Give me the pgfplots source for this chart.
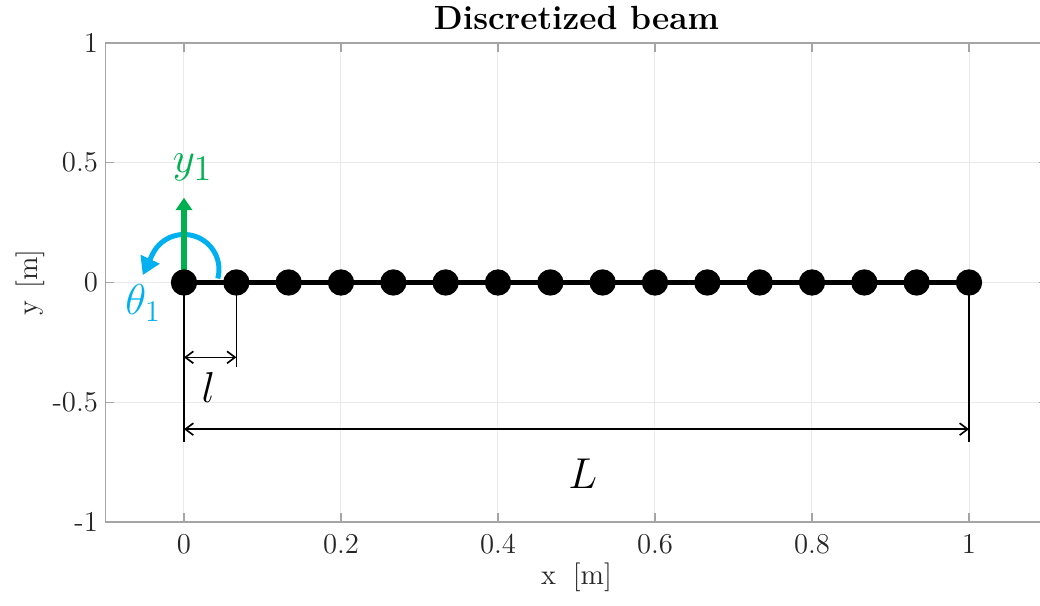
\documentclass[border=0pt]{standalone}
\usepackage{pgfplots}
\pgfplotsset{compat=1.18}
\usetikzlibrary{arrows.meta,calc}
\definecolor{mgreen}{RGB}{0,176,80}
\definecolor{mcyan}{RGB}{0,176,240}
\definecolor{axgray}{RGB}{165,165,165}
\definecolor{gridgray}{RGB}{234,234,234}
\definecolor{txt}{RGB}{38,38,38}
\begin{document}
\begin{tikzpicture}
\begin{axis}[
  at={(0,0)}, anchor=south west,
  scale only axis, width=376.8pt, height=191.6pt,
  xmin=-0.1, xmax=1.1, ymin=-1, ymax=1,
  xtick={0,0.2,0.4,0.6,0.8,1}, xticklabels={0,0.2,0.4,0.6,0.8,1},
  ytick={-1,-0.5,0,0.5,1}, yticklabels={-1,-0.5,0,0.5,1},
  grid=major, major grid style={draw=gridgray, line width=0.4pt},
  axis line style={draw=axgray, line width=0.5pt},
  tick style={draw=axgray, line width=0.5pt},
  major tick length=3.6pt, tick align=inside,
  ticklabel style={font=\fontsize{11.5}{13}\selectfont, text=txt},
  xticklabel style={yshift=-1.5pt},
  yticklabel style={xshift=0.5pt},
  title={\textbf{Discretized beam}},
  every axis title/.style={at={(axis description cs:0.5,1)}, anchor=center, yshift=10pt, font=\fontsize{13.4}{15}\selectfont, text=black},
  xlabel={x\hspace{0.59em}[m]}, ylabel={y\hspace{0.42em}[m]},
  every axis x label/.style={at={(axis description cs:0.5,0)}, anchor=center, yshift=-22pt, font=\fontsize{11.5}{13}\selectfont, text=txt},
  every axis y label/.style={at={(axis description cs:0,0.5)}, anchor=center, rotate=90, yshift=30.2pt, font=\fontsize{11.5}{13}\selectfont, text=txt},
  clip=false,
]
% dimension lines
\draw[black, line width=0.55pt] (axis cs:0,0) -- (axis cs:0,-0.667);
\draw[black, line width=0.55pt] (axis cs:1,0) -- (axis cs:1,-0.667);
\draw[black, line width=0.55pt] (axis cs:0.0667,0) -- (axis cs:0.0667,-0.354);
\draw[black, line width=0.65pt, {Straight Barb[length=3.2pt,width=4.8pt]}-{Straight Barb[length=3.2pt,width=4.8pt]}] (axis cs:0,-0.3125) -- (axis cs:0.0667,-0.3125);
\draw[black, line width=0.65pt, {Straight Barb[length=3.2pt,width=4.8pt]}-{Straight Barb[length=3.2pt,width=4.8pt]}] (axis cs:0,-0.6125) -- (axis cs:1,-0.6125);
% beam
\addplot[black, line width=2.1pt, mark=*, mark size=4.2pt, mark options={fill=black}] coordinates {
(0,0) (0.0667,0) (0.1333,0) (0.2,0) (0.2667,0) (0.3333,0) (0.4,0) (0.4667,0)
(0.5333,0) (0.6,0) (0.6667,0) (0.7333,0) (0.8,0) (0.8667,0) (0.9333,0) (1,0)};
% rotation arrow
\coordinate (O) at (axis cs:0,0);
\draw[mcyan, line width=2pt, -{Triangle[length=7pt,width=8pt]}] ($(O)+(90:5.2pt)+(-15:14pt)$) arc[start angle=-15, end angle=155, radius=14pt] -- ++(245:9pt);
% vertical arrow
\draw[mgreen, line width=2.4pt, -{Triangle[length=5pt,width=6.5pt]}] (axis cs:0,0) -- (axis cs:0,0.354);
% labels
\node[mgreen, font=\fontsize{19}{22}\selectfont] at (axis cs:0.011,0.48) {$y_1$};
\node[mcyan, font=\fontsize{18.5}{22}\selectfont] at (axis cs:-0.052,-0.085) {$\theta_1$};
\node[black, font=\fontsize{19}{22}\selectfont] at (axis cs:0.031,-0.4375) {$l$};
\node[black, font=\fontsize{19}{22}\selectfont] at (axis cs:0.508,-0.80) {$L$};
\end{axis}
\pgfresetboundingbox
\useasboundingbox (-42.2pt,-33.6pt) rectangle (373.8pt,208.8pt);
\end{tikzpicture}
\end{document}
